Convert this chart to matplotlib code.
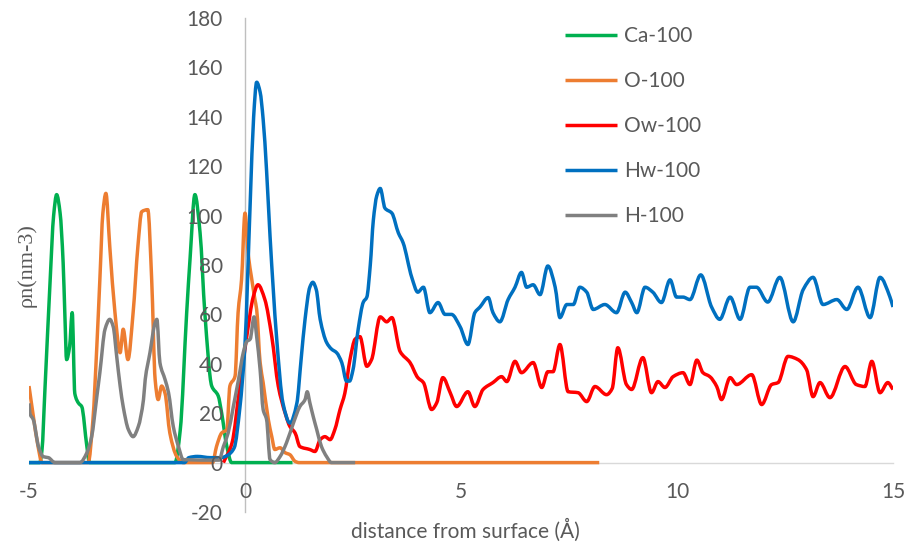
import matplotlib
matplotlib.use("Agg")
import numpy as np
import matplotlib.pyplot as plt
from matplotlib.path import Path
from matplotlib.patches import PathPatch
from matplotlib.lines import Line2D

# ---------------- data ----------------
ca_x = [-5, -4.75, -4.7, -4.63, -4.51, -4.43, -4.36, -4.28, -4.21, -4.17, -4.13, -4.06, -4.0, -3.94, -3.85,
        -3.78, -3.66, -3.6,
        -1.62, -1.5, -1.35, -1.27, -1.16, -1.04, -0.93, -0.77, -0.62, -0.54, -0.42, -0.31, 1.1]
ca_y = [0, 0, 5, 30, 74, 100, 108.5, 101, 81, 60, 41.7, 47, 60.7, 28, 24,
        22.7, 6.5, 0,
        0, 13, 60.7, 83, 108.5, 93, 60.7, 31, 27, 20, 6.5, 0, 0]

o_x = [-5, -4.91, -4.79, -4.7, -3.63, -3.52, -3.43, -3.36, -3.29, -3.22, -3.13, -3.01, -2.89, -2.82, -2.71,
       -2.59, -2.48, -2.39, -2.25, -2.16, -2.08, -2.01, -1.93, -1.85, -1.74, -1.58, -1.43, -0.75, -0.66,
       -0.54, -0.42, -0.35, -0.23, -0.16, -0.08, 0.0, 0.08, 0.15, 0.23, 0.27, 0.35, 0.42, 0.54, 0.62, 0.69,
       0.81, 0.93, 1.04, 1.16, 1.25, 8.2]
o_y = [31, 20, 6.5, 0, 0, 17.4, 47, 74, 101, 109, 87.4, 60.7, 44.5, 54, 41.7,
       60.7, 87.4, 101.6, 102.4, 74, 33.6, 25.5, 31, 28, 12, 2.5, 0, 0, 6.5,
       12, 13.4, 31, 35, 60.7, 74, 101, 83.5, 75, 66, 62, 40.5, 32.4, 17.4, 10.5, 5.3,
       6, 4, 3.2, 0.5, 0, 0]

ow_x = [-0.5, -0.3, -0.12, 0.04, 0.19, 0.3, 0.46, 0.62, 0.77, 0.93, 1.04, 1.16, 1.27, 1.5, 1.62, 1.74,
        1.85, 1.97, 2.08, 2.2, 2.31, 2.43, 2.55, 2.66, 2.82, 2.93, 3.13, 3.28, 3.40, 3.59, 3.82, 4.0,
        4.13, 4.32, 4.44, 4.58, 4.75, 4.9, 5.16, 5.32, 5.51, 5.74, 5.94, 6.06, 6.25, 6.4, 6.67, 6.87,
        7.01, 7.13, 7.29, 7.48, 7.71, 7.91, 8.1, 8.37, 8.5, 8.63, 8.83, 8.95, 9.21, 9.41, 9.56, 9.72,
        9.91, 10.14, 10.3, 10.46, 10.6, 10.76, 10.92, 11.03, 11.23, 11.38, 11.73, 11.96, 12.19, 12.34,
        12.57, 12.8, 13.0, 13.15, 13.31, 13.54, 13.89, 14.15, 14.35, 14.51, 14.7, 14.88, 15.0]
ow_y = [0, 8, 31, 51, 67, 72, 66, 51, 31, 20, 14.6, 12, 6.5, 5.3, 4.5, 9.3,
        10.5, 9.3, 13.4, 21.5, 28, 41.7, 50, 51, 39, 41.7, 59, 57, 58.7, 45, 40.5, 34.4,
        32.4, 21.5, 24.3, 34.4, 28.3, 22.7, 28.7, 22.7, 29.6, 32.4, 34.8, 32.8, 41, 36.4, 40.5, 30.4,
        36.8, 36.8, 47.8, 28.7, 28.3, 24.7, 30.8, 27.5, 30, 46.5, 31.6, 29.6, 42.5, 28.3, 32.8, 30.4,
        34.8, 36.4, 31.6, 41.5, 36.4, 34.8, 30.8, 25.5, 34.4, 31.6, 35.6, 23.5, 31.6, 32.4,
        43, 41.7, 37.6, 26.7, 32.4, 26.3, 38.9, 31.6, 30.8, 41, 28.3, 32.4, 29.6]

hw_x = [-5, -1.4, -1.3, -1.1, -0.8, -0.55, -0.4, -0.25, -0.12, 0.0, 0.12, 0.2, 0.27, 0.35, 0.42, 0.5,
        0.58, 0.73, 0.88, 1.04, 1.2, 1.3, 1.39, 1.5, 1.57, 1.65, 1.74, 1.89, 2.0, 2.12, 2.24, 2.35,
        2.42, 2.5, 2.62, 2.74, 2.82, 2.9, 2.97, 3.05, 3.13, 3.24, 3.40, 3.55, 3.66, 3.86, 4.0, 4.13,
        4.28, 4.47, 4.63, 4.78, 4.98, 5.16, 5.32, 5.44, 5.63, 5.74, 5.9, 6.09, 6.25, 6.4, 6.52, 6.67,
        6.83, 7.01, 7.18, 7.29, 7.45, 7.6, 7.75, 7.91, 8.06, 8.33, 8.6, 8.8, 8.95, 9.07, 9.26, 9.44,
        9.64, 9.84, 9.99, 10.14, 10.3, 10.55, 10.8, 10.99, 11.23, 11.46, 11.69, 11.84, 12.1, 12.38,
        12.69, 12.92, 13.15, 13.38, 13.7, 13.93, 14.19, 14.47, 14.7, 14.93, 15.0]
hw_y = [0, 0, 2, 2.5, 2, 2, 3, 6, 22, 48, 105, 140, 154, 150, 139, 118,
        91.5, 51, 24, 16, 24, 42, 58, 71, 73, 70, 58, 48.6, 46, 44.5, 40.5, 33,
        33, 37.6, 54, 65, 67, 80, 98, 108, 111, 103, 101, 93, 89, 75, 69, 71,
        60.7, 64.8, 60, 60, 55, 47.8, 60.7, 63, 66.8, 60.7, 57, 66, 71, 77, 71, 72,
        68, 79.6, 71, 58.7, 64, 64, 71, 69, 62, 64, 60.7, 69, 64.8, 60.7, 71, 69,
        64.8, 74, 67, 67, 66, 76, 63, 58, 67, 58, 71, 71, 65, 75,
        57, 70, 75, 64, 66, 62, 71, 58.7, 75, 67, 63]

h_x = [-5, -4.98, -4.9, -4.78, -4.67, -4.55, -4.4, -3.82, -3.66, -3.55, -3.43, -3.36, -3.24, -3.13, -3.05,
       -2.97, -2.89, -2.82, -2.7, -2.59, -2.47, -2.35, -2.31, -2.2, -2.08, -2.04, -1.97, -1.85, -1.77,
       -1.66, -1.54, -1.43, -0.6, -0.5, -0.39, -0.27, -0.15, -0.04, 0.04, 0.12, 0.21, 0.27, 0.35, 0.42,
       0.5, 0.58, 0.69, 0.81, 0.96, 1.12, 1.27, 1.39, 1.44, 1.5, 1.58, 1.66, 1.77, 1.89, 2.0, 2.55]
h_y = [24, 20, 17.4, 6.5, 2.4, 2, 0, 0, 4, 10.5, 26.7, 36.4, 54, 58, 55,
       43, 31, 22.7, 13.4, 10.5, 14.6, 25.5, 33.6, 44.5, 56.7, 58, 40.5, 33.6, 28.3,
       14.6, 6.5, 1.2, 1, 6.5, 12, 22.7, 33.6, 44.5, 49, 50, 59, 51, 37.6, 21.5,
       17.4, 1.2, 0, 2.4, 8, 16, 22.7, 25.5, 28.7, 24.3, 18.6, 13.4, 6.5, 2.4, 0, 0]

series_names = ["Ca-100", "O-100", "Ow-100", "Hw-100", "H-100"]
series_x = [ca_x, o_x, ow_x, hw_x, h_x]
series_y = [ca_y, o_y, ow_y, hw_y, h_y]
series_colors = ["#00B050", "#ED7D31", "#FF0000", "#0070C0", "#808080"]

x_ticks = [-5, 0, 5, 10, 15]
y_ticks = [-20, 0, 20, 40, 60, 80, 100, 120, 140, 160, 180]


def smooth_path(xs, ys):
    """Smoothed line (like a spreadsheet 'smoothed line') as cubic Bezier segments through the points."""
    x = np.asarray(xs, float)
    y = np.asarray(ys, float)
    n = len(x)
    h = np.diff(x)
    d = np.diff(y) / h
    m = np.zeros(n)
    for k in range(1, n - 1):
        if d[k - 1] * d[k] > 0:
            w1 = 2 * h[k] + h[k - 1]
            w2 = h[k] + 2 * h[k - 1]
            m[k] = (w1 + w2) / (w1 / d[k - 1] + w2 / d[k])
    m[0] = d[0] if n > 1 else 0
    m[-1] = d[-1] if n > 1 else 0
    verts = [(x[0], y[0])]
    codes = [Path.MOVETO]
    for k in range(n - 1):
        dx = h[k] / 3.0
        verts += [(x[k] + dx, y[k] + m[k] * dx),
                  (x[k + 1] - dx, y[k + 1] - m[k + 1] * dx),
                  (x[k + 1], y[k + 1])]
        codes += [Path.CURVE4] * 3
    return Path(verts, codes)


# ---------------- figure ----------------
W, H = 910, 552
fig = plt.figure(figsize=(W / 100, H / 100), dpi=100)
ax = fig.add_axes([29 / W, 40 / H, 864 / W, 494 / H])

tick_font = "Lato"
txt_col = "#595959"
LW = 2.5

handles = []
for name, xs, ys, col in zip(series_names, series_x, series_y, series_colors):
    patch = PathPatch(smooth_path(xs, ys), facecolor="none", edgecolor=col, lw=LW,
                      joinstyle="round", capstyle="butt")
    ax.add_patch(patch)
    handles.append(Line2D([], [], color=col, lw=LW, solid_capstyle="butt", label=name))

ax.set_xlim(-5, 15)
ax.set_ylim(-20, 180)
ax.set_xticks(x_ticks)
ax.set_yticks(y_ticks)
ax.set_xticklabels([str(v) for v in x_ticks])
ax.set_yticklabels([str(v) for v in y_ticks])

for s in ["top", "right"]:
    ax.spines[s].set_visible(False)
ax.spines["left"].set_position(("data", 0))
ax.spines["bottom"].set_position(("data", 0))
ax.spines["left"].set_color("#BFBFBF")
ax.spines["bottom"].set_color("#D9D9D9")
ax.spines["left"].set_linewidth(1.0)
ax.spines["bottom"].set_linewidth(1.0)
ax.spines["bottom"].set_zorder(0)
ax.spines["left"].set_zorder(0)
ax.tick_params(axis="x", length=0, pad=14, labelsize=15, labelcolor=txt_col,
               labelfontfamily=tick_font)
ax.tick_params(axis="y", length=0, pad=16, labelsize=15, labelcolor=txt_col,
               labelfontfamily=tick_font)
ax.patch.set_alpha(0)

fig.text(465 / W, 1 - 530 / H, "distance from surface (Å)", ha="center", va="center",
         fontfamily=tick_font, fontsize=15, color=txt_col)
fig.text(27 / W, 1 - 265 / H, "ρn(nm-3)", ha="center", va="center", rotation=90,
         fontfamily="Liberation Serif", fontsize=16, color=txt_col)

leg = fig.legend(handles=handles, loc="upper left", bbox_to_anchor=(565 / W, 1 - 26 / H),
                 frameon=False, borderpad=0, borderaxespad=0, handlelength=2.5,
                 handletextpad=0.35, labelspacing=1.2, prop={"family": tick_font, "size": 15})
for t in leg.get_texts():
    t.set_color(txt_col)

fig.savefig("out.png", dpi=100)
